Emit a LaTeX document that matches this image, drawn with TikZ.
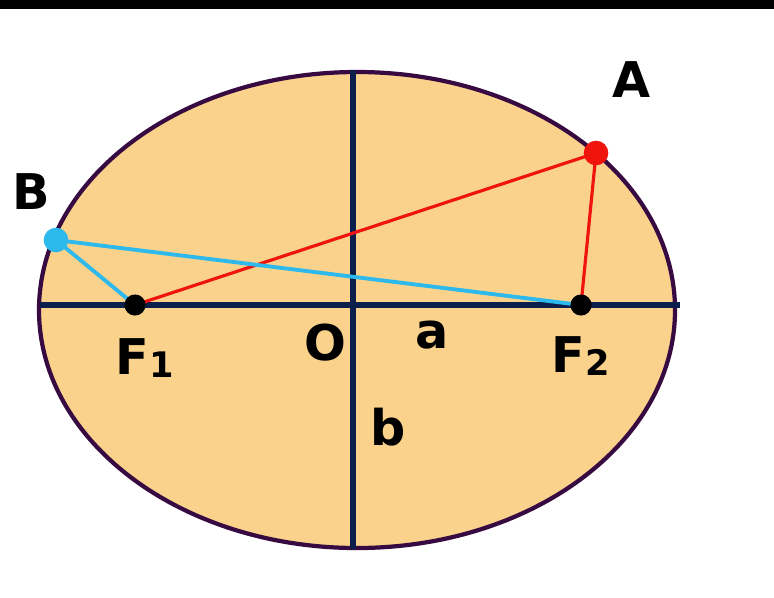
\documentclass[tikz,border=0pt]{standalone}
\usepackage{fontspec}
\setmainfont{DejaVu Sans}
\definecolor{fillorange}{RGB}{250,210,140}
\definecolor{rimpurple}{RGB}{55,10,65}
\definecolor{axisnavy}{RGB}{12,30,75}
\definecolor{pointred}{RGB}{240,20,15}
\definecolor{pointcyan}{RGB}{45,185,235}
\tikzset{
  axisline/.style={draw=axisnavy, line width=1.7pt},
  redline/.style={draw=pointred, line width=0.9pt},
  cyanline/.style={draw=pointcyan, line width=1.1pt},
  focusdot/.style={circle, fill=black, inner sep=0pt, minimum size=6pt},
  reddot/.style={circle, fill=pointred, inner sep=0pt, minimum size=7pt},
  cyandot/.style={circle, fill=pointcyan, inner sep=0pt, minimum size=7pt},
  lbl/.style={font=\bfseries\fontsize{14}{16}\selectfont, text=black, inner sep=0pt}
}
\begin{document}
\begin{tikzpicture}[x=0.01cm, y=-0.01cm]
\useasboundingbox (0,0) rectangle (774,597);
\fill[white] (0,0) rectangle (774,597);
\fill[black] (0,0) rectangle (774,9);
% ellipse
\draw[fill=fillorange, draw=rimpurple, line width=1.2pt] (357,310) ellipse [x radius=318, y radius=238];
% axes
\coordinate (hl) at (40,305);
\coordinate (hr) at (680,305);
\coordinate (vt) at (353,70);
\coordinate (vb) at (353,549);
\draw[axisline] (hl) -- (hr);
\draw[axisline] (vt) -- (vb);
% points
\coordinate (F1) at (135,305);
\coordinate (F2) at (581,305);
\coordinate (A) at (596,153);
\coordinate (B) at (56,240);
\draw[redline] (F1) -- (A) -- (F2);
\draw[cyanline] (F1) -- (B) -- (F2);
\node[focusdot] (f1dot) at (F1) {};
\node[focusdot] (f2dot) at (F2) {};
\node[reddot] (adot) at (A) {};
\node[cyandot] (bdot) at (B) {};
% labels
\node[lbl] (la) at (632,80) {A};
\node[lbl] (lb) at (31,192) {B};
\node[lbl] (lf1) at (145,358) {F\raisebox{-0.05em}{\fontsize{10}{10}\selectfont 1}};
\node[lbl] (lf2) at (581,356) {F\raisebox{-0.05em}{\fontsize{10}{10}\selectfont 2}};
\node[lbl] (lo) at (325,343) {O};
\node[lbl] (lsa) at (432,335) {a};
\node[lbl] (lsb) at (388,427) {b};
\end{tikzpicture}
\end{document}
